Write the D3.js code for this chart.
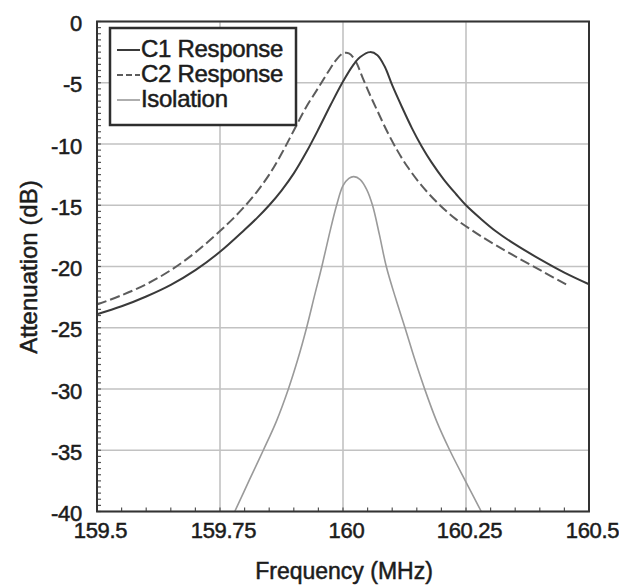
<!DOCTYPE html>
<html><head><meta charset="utf-8">
<script src="https://cdn.jsdelivr.net/npm/d3@7"></script>
<style>
html,body{margin:0;padding:0;background:#fff;}
text{font-family:"Liberation Sans",Arial,Helvetica,sans-serif;fill:#1c1c1c;}
</style></head>
<body><svg id="chart" width="619" height="586"></svg>
<script>
// ---- data ----
const c1Freq = [159.50,159.55,159.60,159.65,159.70,159.75,159.80,159.825,159.85,159.875,159.90,159.925,159.95,159.975,160.00,160.02,160.035,160.055,160.07,160.085,160.10,160.12,160.14,160.16,160.18,160.205,160.23,160.25,160.28,160.31,160.35,160.40,160.45,160.50];
const c1dB   = [-23.9,-23.25,-22.45,-21.5,-20.3,-18.8,-17.0,-16.05,-15.0,-13.8,-12.4,-10.7,-8.8,-6.8,-4.9,-3.6,-2.9,-2.5,-2.75,-3.7,-5.2,-7.0,-8.7,-10.2,-11.5,-12.9,-14.1,-15.0,-16.1,-17.1,-18.2,-19.4,-20.5,-21.45];

const c2Freq = [159.50,159.55,159.60,159.65,159.70,159.75,159.775,159.80,159.825,159.85,159.875,159.90,159.925,159.95,159.97,159.985,160.0,160.012,160.025,160.04,160.055,160.07,160.09,160.11,160.13,160.16,160.197,160.23,160.27,160.31,160.36,160.41,160.455];
const c2dB   = [-23.1,-22.35,-21.45,-20.3,-18.85,-17.1,-16.15,-15.1,-13.9,-12.5,-10.8,-8.9,-7.0,-5.4,-4.1,-3.2,-2.6,-2.6,-3.2,-4.6,-6.0,-7.3,-9.0,-10.5,-11.8,-13.4,-15.0,-16.15,-17.25,-18.25,-19.4,-20.5,-21.5];

const isoFreq = [159.78,159.81,159.838,159.865,159.889,159.908,159.926,159.942,159.957,159.972,159.987,160.00,160.012,160.022,160.035,160.048,160.06,160.074,160.088,160.107,160.126,160.146,160.166,160.19,160.217,160.25,160.281];
const isodB   = [-40,-37.4,-35,-32.6,-30,-27.6,-25,-22.4,-20,-17.4,-15,-13.4,-12.8,-12.66,-12.9,-13.7,-15.0,-17.4,-20,-22.6,-25,-27.6,-30,-32.6,-35,-37.6,-40];

const xTicks = [159.5,159.75,160,160.25,160.5];
const xTickLabels = ["159.5","159.75","160","160.25","160.5"];
const yTicks = [0,-5,-10,-15,-20,-25,-30,-35,-40];
const yTickLabels = ["0","-5","-10","-15","-20","-25","-30","-35","-40"];
const seriesNames = ["C1 Response","C2 Response","Isolation"];
const xTitle = "Frequency (MHz)";
const yTitle = "Attenuation (dB)";

// ---- drawing ----
const svg = d3.select("#chart");
const L = 97, R = 589, T = 21.5, B = 511.5;
const x = d3.scaleLinear().domain([159.5,160.5]).range([L,R]);
const y = d3.scaleLinear().domain([-40,0]).range([B,T]);

// grid
const grid = svg.append("g");
grid.selectAll("line.v").data(xTicks).join("line")
  .attr("x1",d=>x(d)).attr("x2",d=>x(d)).attr("y1",T).attr("y2",B)
  .attr("stroke","#c2c2c2").attr("stroke-width",1.6);
grid.selectAll("line.h").data(yTicks).join("line")
  .attr("x1",L).attr("x2",R).attr("y1",d=>y(d)).attr("y2",d=>y(d))
  .attr("stroke","#c2c2c2").attr("stroke-width",1.6);

// minor ticks (inside)
const xMinor = d3.range(0,21).map(i=>159.5+i*0.05);
const yMinor = d3.range(0,81).map(i=>-40+i*0.5);
svg.append("g").selectAll("line").data(xMinor).join("line")
  .attr("x1",d=>x(d)).attr("x2",d=>x(d)).attr("y1",B).attr("y2",B-4)
  .attr("stroke","#555").attr("stroke-width",1.2);
svg.append("g").selectAll("line").data(yMinor).join("line")
  .attr("x1",L).attr("x2",L+4).attr("y1",d=>y(d)).attr("y2",d=>y(d))
  .attr("stroke","#555").attr("stroke-width",1.2);

// axes (labels via d3 axes)
const xAxis = d3.axisBottom(x).tickValues(xTicks).tickFormat((d,i)=>xTickLabels[i]).tickSize(0).tickPadding(0);
const gx = svg.append("g").attr("transform",`translate(3,${B})`).call(xAxis);
gx.select(".domain").remove();
gx.selectAll("text").attr("font-size",22).attr("dy","1.2em").attr("fill","#1c1c1c")
  .attr("stroke","#1c1c1c").attr("stroke-width",0.5).attr("letter-spacing","-0.3");

const yAxis = d3.axisLeft(y).tickValues(yTicks).tickFormat((d,i)=>yTickLabels[i]).tickSize(0).tickPadding(15);
const gy = svg.append("g").attr("transform",`translate(${L},2)`).call(yAxis);
gy.select(".domain").remove();
gy.selectAll("text").attr("font-size",22).attr("fill","#1c1c1c")
  .attr("stroke","#1c1c1c").attr("stroke-width",0.5).attr("letter-spacing","-0.3");

// curves
const line = d3.line().x(d=>x(d[0])).y(d=>y(d[1])).curve(d3.curveCatmullRom.alpha(0.5));
const zip = (a,b)=>a.map((v,i)=>[v,b[i]]);
svg.append("path").datum(zip(isoFreq,isodB)).attr("d",line)
  .attr("fill","none").attr("stroke","#9a9a9a").attr("stroke-width",1.6);
svg.append("path").datum(zip(c2Freq,c2dB)).attr("d",line)
  .attr("fill","none").attr("stroke","#5c5c5c").attr("stroke-width",2).attr("stroke-dasharray","10,4");
svg.append("path").datum(zip(c1Freq,c1dB)).attr("d",line)
  .attr("fill","none").attr("stroke","#3a3a3a").attr("stroke-width",2);

// frame
svg.append("rect").attr("x",L).attr("y",T).attr("width",R-L).attr("height",B-T)
  .attr("fill","none").attr("stroke","#333").attr("stroke-width",2);

// legend
const lg = svg.append("g");
lg.append("rect").attr("x",110).attr("y",28).attr("width",186).attr("height",97)
  .attr("fill","#fff").attr("stroke","#2e2e2e").attr("stroke-width",2.5);
const lstyles = [
  {c:"#3a3a3a",d:null,w:2},
  {c:"#5c5c5c",d:"6,3",w:2},
  {c:"#9a9a9a",d:null,w:1.6}
];
seriesNames.forEach((n,i)=>{
  const yy = 57 + i*25;
  lg.append("line").attr("x1",117).attr("x2",140).attr("y1",yy-7).attr("y2",yy-7)
    .attr("stroke",lstyles[i].c).attr("stroke-width",lstyles[i].w)
    .attr("stroke-dasharray",lstyles[i].d);
  lg.append("text").attr("x",141).attr("y",yy).attr("font-size",24)
    .attr("stroke","#1c1c1c").attr("stroke-width",0.5).attr("letter-spacing","-0.3").text(n);
});

// titles
svg.append("text").attr("x",344).attr("y",579).attr("text-anchor","middle")
  .attr("font-size",23).attr("stroke","#1c1c1c").attr("stroke-width",0.5).text(xTitle);
svg.append("text").attr("transform","translate(37,267) rotate(-90)").attr("text-anchor","middle")
  .attr("font-size",24).attr("stroke","#1c1c1c").attr("stroke-width",0.5).text(yTitle);
</script></body></html>
